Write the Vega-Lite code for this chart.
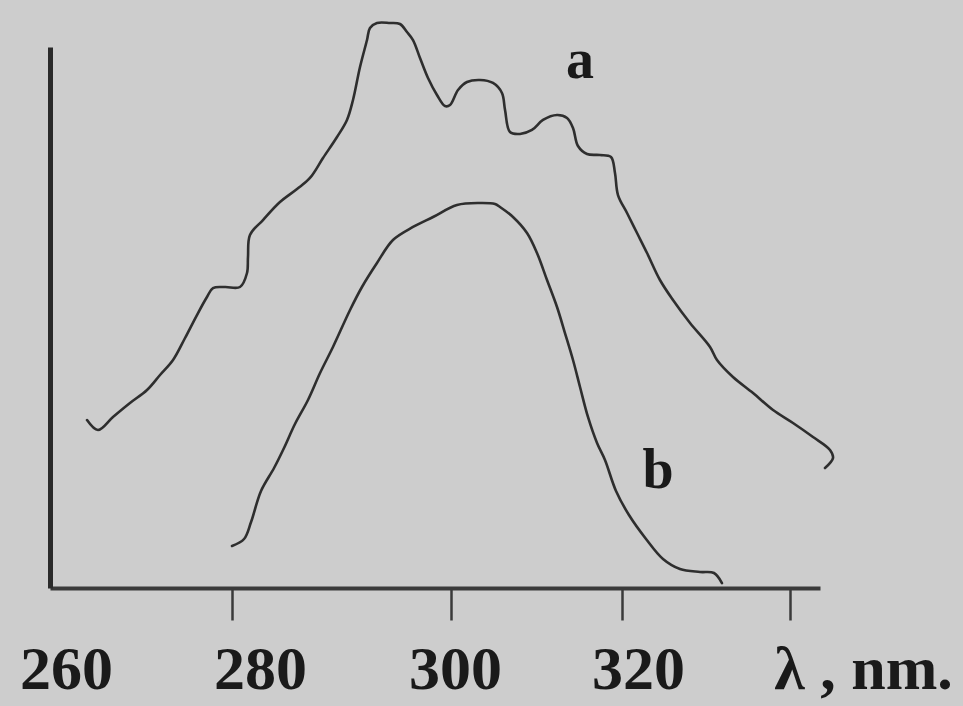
{
  "$schema": "https://vega.github.io/schema/vega-lite/v6.json",
  "width": 770,
  "height": 541,
  "autosize": {"type": "none"},
  "padding": {"left": 50, "top": 47, "right": 143, "bottom": 118},
  "background": "#cdcdcd",
  "config": {"view": {"stroke": null}},
  "datasets": {
    "spectra": [
      {"curve": "a", "n": 1, "wavelength": 264.07, "intensity": 31.05},
      {"curve": "a", "n": 2, "wavelength": 265.27, "intensity": 29.21},
      {"curve": "a", "n": 3, "wavelength": 266.92, "intensity": 31.61},
      {"curve": "a", "n": 4, "wavelength": 268.79, "intensity": 34.2},
      {"curve": "a", "n": 5, "wavelength": 270.66, "intensity": 36.6},
      {"curve": "a", "n": 6, "wavelength": 272.09, "intensity": 39.37},
      {"curve": "a", "n": 7, "wavelength": 273.52, "intensity": 42.14},
      {"curve": "a", "n": 8, "wavelength": 274.84, "intensity": 46.21},
      {"curve": "a", "n": 9, "wavelength": 276.15, "intensity": 50.46},
      {"curve": "a", "n": 10, "wavelength": 277.25, "intensity": 53.79},
      {"curve": "a", "n": 11, "wavelength": 277.91, "intensity": 55.45},
      {"curve": "a", "n": 12, "wavelength": 279.23, "intensity": 55.64},
      {"curve": "a", "n": 13, "wavelength": 280.73, "intensity": 55.64},
      {"curve": "a", "n": 14, "wavelength": 281.37, "intensity": 58.23},
      {"curve": "a", "n": 15, "wavelength": 281.46, "intensity": 61.18},
      {"curve": "a", "n": 16, "wavelength": 281.64, "intensity": 65.25},
      {"curve": "a", "n": 17, "wavelength": 282.83, "intensity": 68.02},
      {"curve": "a", "n": 18, "wavelength": 284.38, "intensity": 71.35},
      {"curve": "a", "n": 19, "wavelength": 285.94, "intensity": 73.75},
      {"curve": "a", "n": 20, "wavelength": 287.12, "intensity": 75.79},
      {"curve": "a", "n": 21, "wavelength": 288.31, "intensity": 79.48},
      {"curve": "a", "n": 22, "wavelength": 289.59, "intensity": 83.36},
      {"curve": "a", "n": 23, "wavelength": 290.5, "intensity": 86.51},
      {"curve": "a", "n": 24, "wavelength": 291.05, "intensity": 90.2},
      {"curve": "a", "n": 25, "wavelength": 291.69, "intensity": 96.3},
      {"curve": "a", "n": 26, "wavelength": 292.33, "intensity": 101.29},
      {"curve": "a", "n": 27, "wavelength": 292.6, "intensity": 103.51},
      {"curve": "a", "n": 28, "wavelength": 293.24, "intensity": 104.44},
      {"curve": "a", "n": 29, "wavelength": 294.43, "intensity": 104.44},
      {"curve": "a", "n": 30, "wavelength": 295.34, "intensity": 104.25},
      {"curve": "a", "n": 31, "wavelength": 295.98, "intensity": 102.77},
      {"curve": "a", "n": 32, "wavelength": 296.53, "intensity": 101.29},
      {"curve": "a", "n": 33, "wavelength": 297.17, "intensity": 97.97},
      {"curve": "a", "n": 34, "wavelength": 297.9, "intensity": 94.27},
      {"curve": "a", "n": 35, "wavelength": 298.72, "intensity": 91.13},
      {"curve": "a", "n": 36, "wavelength": 299.45, "intensity": 89.09},
      {"curve": "a", "n": 37, "wavelength": 299.91, "intensity": 89.28},
      {"curve": "a", "n": 38, "wavelength": 300.82, "intensity": 92.05},
      {"curve": "a", "n": 39, "wavelength": 301.87, "intensity": 93.53},
      {"curve": "a", "n": 40, "wavelength": 303.39, "intensity": 93.9},
      {"curve": "a", "n": 41, "wavelength": 304.91, "intensity": 93.35},
      {"curve": "a", "n": 42, "wavelength": 305.96, "intensity": 91.5},
      {"curve": "a", "n": 43, "wavelength": 306.32, "intensity": 88.35},
      {"curve": "a", "n": 44, "wavelength": 306.9, "intensity": 84.29},
      {"curve": "a", "n": 45, "wavelength": 308.07, "intensity": 83.92},
      {"curve": "a", "n": 46, "wavelength": 309.47, "intensity": 84.66},
      {"curve": "a", "n": 47, "wavelength": 310.76, "intensity": 86.51},
      {"curve": "a", "n": 48, "wavelength": 312.4, "intensity": 87.43},
      {"curve": "a", "n": 49, "wavelength": 313.57, "intensity": 86.88},
      {"curve": "a", "n": 50, "wavelength": 314.27, "intensity": 85.03},
      {"curve": "a", "n": 51, "wavelength": 314.85, "intensity": 81.7},
      {"curve": "a", "n": 52, "wavelength": 315.91, "intensity": 80.22},
      {"curve": "a", "n": 53, "wavelength": 317.43, "intensity": 80.04},
      {"curve": "a", "n": 54, "wavelength": 318.71, "intensity": 79.67},
      {"curve": "a", "n": 55, "wavelength": 319.18, "intensity": 76.71},
      {"curve": "a", "n": 56, "wavelength": 319.53, "intensity": 72.64},
      {"curve": "a", "n": 57, "wavelength": 320.6, "intensity": 69.32},
      {"curve": "a", "n": 58, "wavelength": 321.79, "intensity": 65.62},
      {"curve": "a", "n": 59, "wavelength": 322.98, "intensity": 61.92},
      {"curve": "a", "n": 60, "wavelength": 324.52, "intensity": 56.93},
      {"curve": "a", "n": 61, "wavelength": 326.07, "intensity": 53.23},
      {"curve": "a", "n": 62, "wavelength": 328.1, "intensity": 48.98},
      {"curve": "a", "n": 63, "wavelength": 330.48, "intensity": 44.55},
      {"curve": "a", "n": 64, "wavelength": 331.31, "intensity": 42.14},
      {"curve": "a", "n": 65, "wavelength": 333.21, "intensity": 39.0},
      {"curve": "a", "n": 66, "wavelength": 335.6, "intensity": 36.04},
      {"curve": "a", "n": 67, "wavelength": 337.98, "intensity": 32.9},
      {"curve": "a", "n": 68, "wavelength": 340.36, "intensity": 30.5},
      {"curve": "a", "n": 69, "wavelength": 342.76, "intensity": 27.91},
      {"curve": "a", "n": 70, "wavelength": 344.8, "intensity": 25.51},
      {"curve": "a", "n": 71, "wavelength": 345.16, "intensity": 24.03},
      {"curve": "a", "n": 72, "wavelength": 344.2, "intensity": 22.18},
      {"curve": "b", "n": 1, "wavelength": 280.0, "intensity": 7.76},
      {"curve": "b", "n": 2, "wavelength": 281.1, "intensity": 9.06},
      {"curve": "b", "n": 3, "wavelength": 281.74, "intensity": 12.2},
      {"curve": "b", "n": 4, "wavelength": 282.65, "intensity": 17.93},
      {"curve": "b", "n": 5, "wavelength": 283.84, "intensity": 22.18},
      {"curve": "b", "n": 6, "wavelength": 284.75, "intensity": 25.88},
      {"curve": "b", "n": 7, "wavelength": 285.75, "intensity": 30.31},
      {"curve": "b", "n": 8, "wavelength": 286.94, "intensity": 34.75},
      {"curve": "b", "n": 9, "wavelength": 288.04, "intensity": 39.74},
      {"curve": "b", "n": 10, "wavelength": 289.22, "intensity": 44.55},
      {"curve": "b", "n": 11, "wavelength": 290.78, "intensity": 51.39},
      {"curve": "b", "n": 12, "wavelength": 291.87, "intensity": 55.64},
      {"curve": "b", "n": 13, "wavelength": 293.24, "intensity": 60.07},
      {"curve": "b", "n": 14, "wavelength": 294.7, "intensity": 64.33},
      {"curve": "b", "n": 15, "wavelength": 296.53, "intensity": 66.73},
      {"curve": "b", "n": 16, "wavelength": 298.36, "intensity": 68.58},
      {"curve": "b", "n": 17, "wavelength": 300.7, "intensity": 70.79},
      {"curve": "b", "n": 18, "wavelength": 303.39, "intensity": 71.16},
      {"curve": "b", "n": 19, "wavelength": 305.15, "intensity": 70.98},
      {"curve": "b", "n": 20, "wavelength": 305.73, "intensity": 70.43},
      {"curve": "b", "n": 21, "wavelength": 307.25, "intensity": 68.58},
      {"curve": "b", "n": 22, "wavelength": 308.89, "intensity": 65.62},
      {"curve": "b", "n": 23, "wavelength": 310.06, "intensity": 61.92},
      {"curve": "b", "n": 24, "wavelength": 311.23, "intensity": 56.93},
      {"curve": "b", "n": 25, "wavelength": 312.4, "intensity": 51.94},
      {"curve": "b", "n": 26, "wavelength": 313.33, "intensity": 47.13},
      {"curve": "b", "n": 27, "wavelength": 314.27, "intensity": 42.14},
      {"curve": "b", "n": 28, "wavelength": 315.09, "intensity": 37.15},
      {"curve": "b", "n": 29, "wavelength": 316.02, "intensity": 31.61},
      {"curve": "b", "n": 30, "wavelength": 317.08, "intensity": 26.8},
      {"curve": "b", "n": 31, "wavelength": 318.01, "intensity": 23.66},
      {"curve": "b", "n": 32, "wavelength": 319.3, "intensity": 17.93},
      {"curve": "b", "n": 33, "wavelength": 320.83, "intensity": 13.49},
      {"curve": "b", "n": 34, "wavelength": 322.86, "intensity": 9.06},
      {"curve": "b", "n": 35, "wavelength": 324.88, "intensity": 5.36},
      {"curve": "b", "n": 36, "wavelength": 326.9, "intensity": 3.51},
      {"curve": "b", "n": 37, "wavelength": 329.29, "intensity": 2.96},
      {"curve": "b", "n": 38, "wavelength": 330.95, "intensity": 2.77},
      {"curve": "b", "n": 39, "wavelength": 331.9, "intensity": 0.92}
    ],
    "notes": [
      {"label": "a", "wavelength": 315.09, "intensity": 97.41},
      {"label": "b", "wavelength": 324.29, "intensity": 21.63}
    ]
  },
  "layer": [
    {
      "data": {"name": "spectra"},
      "mark": {"type": "line", "color": "#2e2e2e", "strokeWidth": 2.6, "strokeJoin": "round", "strokeCap": "round", "interpolate": "catmull-rom"},
      "encoding": {
        "x": {
          "field": "wavelength",
          "type": "quantitative",
          "scale": {
            "domain": [260, 280, 300, 320, 340, 343.6],
            "range": [0, 182, 401, 572, 740, 770],
            "nice": false,
            "zero": false
          },
          "axis": {
            "title": null,
            "grid": false,
            "values": [260, 280, 300, 320, 340],
            "domain": true,
            "domainColor": "#3a3a3a",
            "domainWidth": 4,
            "ticks": true,
            "tickSize": 32,
            "tickWidth": 2.5,
            "tickColor": "#3a3a3a",
            "tickOpacity": {"condition": {"test": "datum.value == 260", "value": 0}, "value": 1},
            "labelExpr": "datum.value == 340 ? 'λ , nm.' : datum.label",
            "labelFont": "Liberation Serif",
            "labelFontWeight": "bold",
            "labelFontSize": 62,
            "labelColor": "#1a1a1a",
            "labelAlign": "center",
            "labelBaseline": "alphabetic",
            "labelPadding": 68,
            "labelOverlap": false,
            "labelFlush": false,
            "labelBound": false,
            "labelOffset": {
              "condition": [
                {"test": "datum.value == 260", "value": 16},
                {"test": "datum.value == 280", "value": 28},
                {"test": "datum.value == 300", "value": 4},
                {"test": "datum.value == 320", "value": 16},
                {"test": "datum.value == 340", "value": 73}
              ],
              "value": 0
            }
          }
        },
        "y": {
          "field": "intensity",
          "type": "quantitative",
          "scale": {"domain": [0, 100], "nice": false, "zero": false},
          "axis": {
            "title": null,
            "grid": false,
            "labels": false,
            "ticks": false,
            "domain": true,
            "domainColor": "#2a2a2a",
            "domainWidth": 5
          }
        },
        "detail": {"field": "curve", "type": "nominal"},
        "order": {"field": "n", "type": "quantitative"}
      }
    },
    {
      "data": {"name": "notes"},
      "mark": {"type": "text", "font": "Liberation Serif", "fontWeight": "bold", "fontSize": 56, "color": "#1a1a1a", "align": "center", "baseline": "middle"},
      "encoding": {
        "x": {"field": "wavelength", "type": "quantitative"},
        "y": {"field": "intensity", "type": "quantitative"},
        "text": {"field": "label", "type": "nominal"}
      }
    }
  ]
}
